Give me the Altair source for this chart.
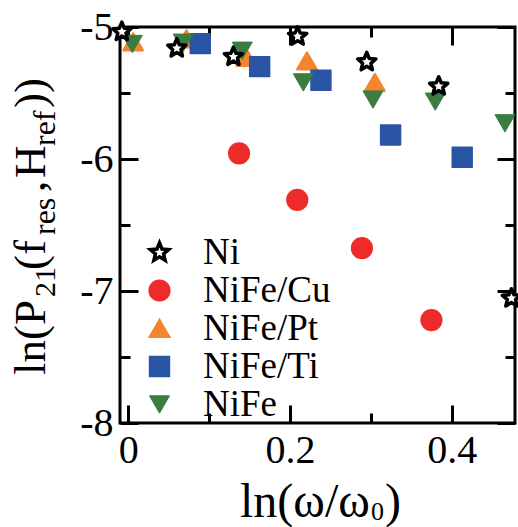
import altair as alt
import pandas as pd

# ---------------- data ----------------
series_names = ["Ni", "NiFe/Cu", "NiFe/Pt", "NiFe/Ti", "NiFe"]

ni_x = [-0.008, 0.060, 0.130, 0.2095, 0.295, 0.384, 0.474]
ni_y = [-5.036, -5.161, -5.225, -5.071, -5.265, -5.449, -7.055]

cu_x = [0.137, 0.209, 0.289, 0.375]
cu_y = [-5.957, -6.31, -6.676, -7.22]

pt_x = [0.006, 0.072, 0.146, 0.221, 0.305]
pt_y = [-5.112, -5.09, -5.23, -5.257, -5.42]

ti_x = [0.089, 0.1625, 0.2383, 0.3245, 0.4131]
ti_y = [-5.126, -5.30, -5.404, -5.818, -5.987]

nife_x = [0.005, 0.068, 0.141, 0.2165, 0.3027, 0.3797, 0.466]
nife_y = [-5.129, -5.119, -5.18, -5.42, -5.55, -5.566, -5.73]

x_major = [0, 0.2, 0.4]
x_ticks = [0, 0.1, 0.2, 0.3, 0.4]
y_major = [-8, -7, -6, -5]
y_ticks = [-8, -7.5, -7, -6.5, -6, -5.5, -5]

series_data = {
    "Ni": (ni_x, ni_y),
    "NiFe/Cu": (cu_x, cu_y),
    "NiFe/Pt": (pt_x, pt_y),
    "NiFe/Ti": (ti_x, ti_y),
    "NiFe": (nife_x, nife_y),
}
draw_order = ["NiFe/Cu", "NiFe/Pt", "NiFe/Ti", "NiFe", "Ni"]
rows = []
for name in draw_order:
    xs, ys = series_data[name]
    for a, b in zip(xs, ys):
        rows.append({"series": name, "x": a, "y": b})
df = pd.DataFrame(rows)

# ---------------- styling ----------------
FONT = "Liberation Serif"
W, H = 395, 396
RED, ORANGE, BLUE, GREEN = "#ee2b2b", "#f5842f", "#2a55a5", "#3b7d40"
STAR = ("M0,-1L0.264,-0.364L0.951,-0.309L0.428,0.139L0.588,0.809L0,0.45"
        "L-0.588,0.809L-0.428,0.139L-0.951,-0.309L-0.264,-0.364Z")
shapes = [STAR, "circle", "triangle-up", "square", "triangle-down"]
fills = ["white", RED, ORANGE, BLUE, GREEN]
strokes = ["black", RED, ORANGE, BLUE, GREEN]
sizes = [366, 400, 506, 430, 506]
stroke_widths = [3.5, 1, 1, 1, 1]

xscale = alt.Scale(domain=[-0.0103, 0.4784], nice=False, zero=False)
yscale = alt.Scale(domain=[-8, -5], nice=False, zero=False)

legend = alt.Legend(title=None, orient="none", legendX=21, legendY=207,
                    labelFont=FONT, labelFontSize=37, labelColor="black",
                    labelOffset=25, rowPadding=0, padding=0, labelLimit=0)

points = alt.Chart(df).mark_point(filled=True, opacity=1,
                                  strokeJoin="round").encode(
    x=alt.X("x:Q", scale=xscale,
            axis=alt.Axis(orient="bottom", values=x_major, ticks=False, tickSize=0,
                          domain=False, grid=False, title=None, labelFont=FONT,
                          labelFontSize=40, labelPadding=7, labelColor="black",
                          labelExpr="toString(datum.value)")),
    y=alt.Y("y:Q", scale=yscale,
            axis=alt.Axis(orient="left", values=y_major, ticks=False, tickSize=0,
                          domain=False, grid=False, title=None, labelFont=FONT,
                          labelFontSize=40, labelPadding=7, labelColor="black",
                          labelExpr="toString(datum.value)")),
    shape=alt.Shape("series:N", scale=alt.Scale(domain=series_names, range=shapes), legend=legend),
    fill=alt.Fill("series:N", scale=alt.Scale(domain=series_names, range=fills), legend=legend),
    stroke=alt.Stroke("series:N", scale=alt.Scale(domain=series_names, range=strokes), legend=legend),
    size=alt.Size("series:N", scale=alt.Scale(domain=series_names, range=sizes), legend=legend),
    strokeWidth=alt.StrokeWidth("series:N", scale=alt.Scale(domain=series_names, range=stroke_widths),
                                legend=legend),
)

x_tick_size = {"condition": {"test": "round(datum.value*10) % 2 == 0", "value": 18}, "value": 10}
y_tick_size = {"condition": {"test": "abs(datum.value - round(datum.value)) < 0.01", "value": 18}, "value": 10}


def tick_layer(xorient, yorient):
    return alt.Chart(df).mark_point(opacity=0).encode(
        x=alt.X("x:Q", scale=xscale,
                axis=alt.Axis(orient=xorient, offset=-H, values=x_ticks, labels=False,
                              domain=False, grid=False, title=None, ticks=True,
                              tickSize=x_tick_size, tickWidth=3, tickColor="black")),
        y=alt.Y("y:Q", scale=yscale,
                axis=alt.Axis(orient=yorient, offset=-W, values=y_ticks, labels=False,
                              domain=False, grid=False, title=None, ticks=True,
                              tickSize=y_tick_size, tickWidth=3, tickColor="black")),
    )


ticks_a = tick_layer("top", "right")     # bottom edge & left edge, pointing inward
ticks_b = tick_layer("bottom", "left")   # top edge & right edge, pointing inward


def txt(s, x, y, size, angle=0):
    return alt.Chart(alt.Data(values=[{}])).mark_text(
        text=s, font=FONT, fontSize=size, align="left", baseline="alphabetic",
        angle=angle, color="black").encode(x=alt.value(x), y=alt.value(y))


titles = [
    # x title: ln(ω/ω0)
    txt("ln(ω/ω", 120, 490, 48),
    txt("0", 251, 493, 26),
    txt(")", 265, 490, 48),
    # y title: ln(P21(fres, Href))
    txt("ln(P", -75, 348, 45, 270),
    txt("21", -65, 270, 30, 270),
    txt("(f", -75, 243, 45, 270),
    txt("res", -65, 208, 32, 270),
    txt(",", -75, 165, 45, 270),
    txt("H", -75, 151, 45, 270),
    txt("ref", -65, 119, 32, 270),
    txt("))", -75, 81, 45, 270),
]

chart = alt.layer(ticks_a, ticks_b, points, *titles).resolve_axis(
    x="independent", y="independent"
).properties(
    width=W, height=H, autosize="none",
    padding={"left": 120, "top": 27, "right": 3, "bottom": 104},
    background="white",
).configure_view(stroke="black", strokeWidth=3)

chart.save("out.html", embed_options={"renderer": "svg", "actions": False})
